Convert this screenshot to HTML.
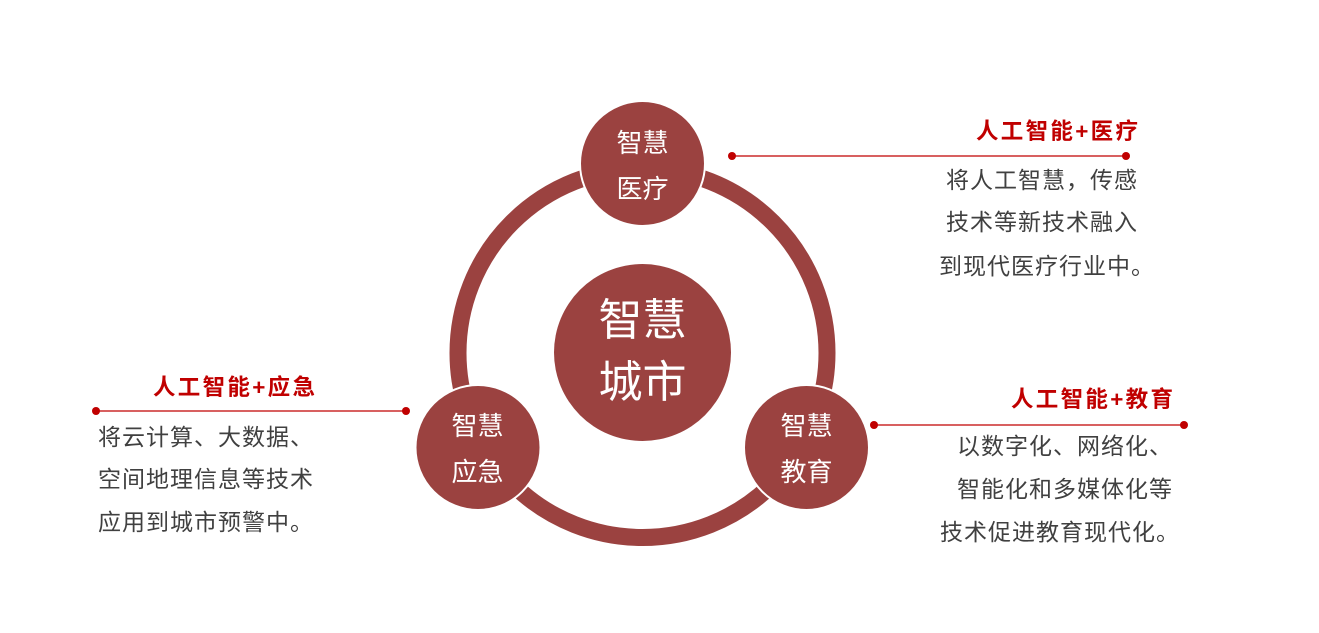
<!DOCTYPE html>
<html><head><meta charset="utf-8"><style>
body{margin:0;width:1319px;height:633px;background:#fff;position:relative;overflow:hidden;font-family:"Liberation Sans","Noto Sans CJK SC",sans-serif}
.t{position:absolute;white-space:nowrap;line-height:30px;font-size:23px;letter-spacing:1px;color:#404040}
.h{position:absolute;white-space:nowrap;line-height:30px;font-size:22.5px;letter-spacing:2.3px;font-weight:bold;color:#c00000}
.w{position:absolute;white-space:nowrap;color:#fff;text-align:center}
</style></head><body>
<svg width="1319" height="633" style="position:absolute;left:0;top:0">
<circle cx="642.5" cy="353" r="184.5" fill="none" stroke="#9b4240" stroke-width="17"/>
<circle cx="642.5" cy="352.5" r="88.5" fill="#9b4240"/>
<circle cx="642.5" cy="163.5" r="62.5" fill="#9b4240" stroke="#fff" stroke-width="2"/>
<circle cx="478" cy="447.5" r="62.5" fill="#9b4240" stroke="#fff" stroke-width="2"/>
<circle cx="806.5" cy="447.5" r="62.5" fill="#9b4240" stroke="#fff" stroke-width="2"/>
<g stroke="#c00000" stroke-width="1.3"><line x1="732" y1="156" x2="1126" y2="156"/><line x1="96" y1="411" x2="406" y2="411"/><line x1="874" y1="425" x2="1184" y2="425"/></g>
<g fill="#c00000"><circle cx="732" cy="156" r="4"/><circle cx="1126" cy="156" r="4"/><circle cx="96" cy="411" r="4"/><circle cx="406" cy="411" r="4"/><circle cx="874" cy="425" r="4"/><circle cx="1184" cy="425" r="4"/></g>
</svg>
<div class="w" style="left:582px;width:121px;top:120px;font-size:26px;line-height:46px">智慧<br>医疗</div>
<div class="w" style="left:417px;width:121px;top:403px;font-size:26px;line-height:46px">智慧<br>应急</div>
<div class="w" style="left:746px;width:121px;top:403px;font-size:26px;line-height:46px">智慧<br>教育</div>
<div class="w" style="left:553px;width:179px;top:290px;font-size:44px;line-height:62px">智慧<br>城市</div>

<div class="h" style="left:976px;top:117px">人工智能+医疗</div>
<div class="t" style="left:946px;top:165px">将人工智慧，传感</div>
<div class="t" style="left:946px;top:207px">技术等新技术融入</div>
<div class="t" style="left:939px;top:251px">到现代医疗行业中。</div>

<div class="h" style="left:153px;top:373px">人工智能+应急</div>
<div class="t" style="left:98px;top:422px">将云计算、大数据、</div>
<div class="t" style="left:98px;top:464px">空间地理信息等技术</div>
<div class="t" style="left:98px;top:507px">应用到城市预警中。</div>

<div class="h" style="left:1011px;top:385px">人工智能+教育</div>
<div class="t" style="left:957px;top:431px">以数字化、网络化、</div>
<div class="t" style="left:957px;top:474px">智能化和多媒体化等</div>
<div class="t" style="left:940px;top:517px">技术促进教育现代化。</div>
</body></html>
